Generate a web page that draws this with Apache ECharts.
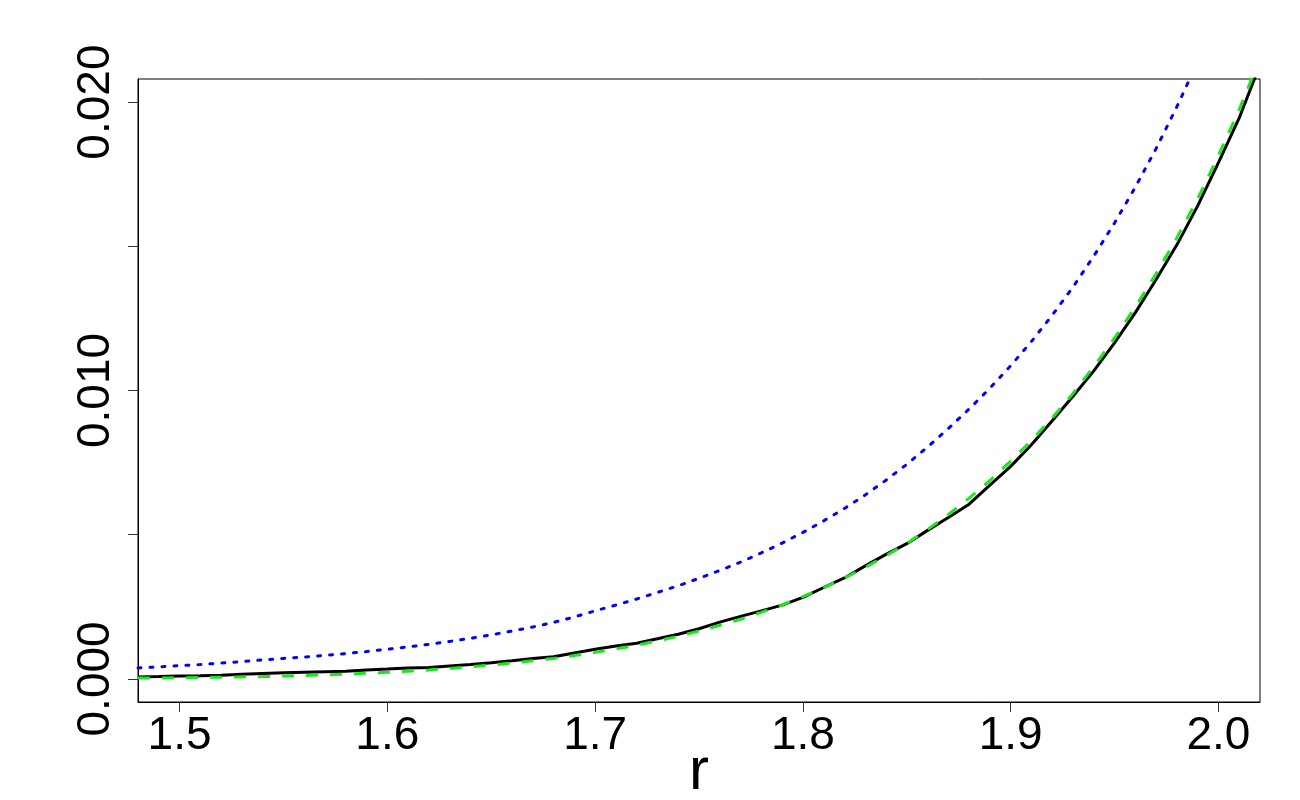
<!DOCTYPE html>
<html>
<head>
<meta charset="utf-8">
<script src="https://cdn.jsdelivr.net/npm/echarts@6/dist/echarts.min.js"></script>
<style>
html,body{margin:0;padding:0;background:#fff;}
#chart{width:1300px;height:800px;}
</style>
</head>
<body>
<div id="chart"></div>
<script>
const rValues = [1.48,1.49,1.50,1.51,1.52,1.53,1.54,1.55,1.56,1.57,1.58,1.59,1.60,1.61,1.62,1.63,1.64,1.65,1.66,1.67,1.68,1.69,1.70,1.71,1.72,1.73,1.74,1.75,1.76,1.77,1.78,1.79,1.80,1.81,1.82,1.83,1.84,1.85,1.86,1.87,1.88,1.89,1.90,1.91,1.92,1.93,1.94,1.95,1.96,1.97,1.98,1.99,2.00,2.01,2.02];

const blackValues = [0.00007,0.00008,0.00010,0.00011,0.00013,0.00016,0.00019,0.00021,0.00023,0.00025,0.00027,0.00031,0.00034,0.00038,0.00040,0.00045,0.00050,0.00056,0.00063,0.00071,0.00077,0.00090,0.00103,0.00114,0.00124,0.00139,0.00155,0.00174,0.00197,0.00217,0.00236,0.00256,0.00283,0.00317,0.00350,0.00392,0.00432,0.00469,0.00515,0.00560,0.00606,0.00672,0.00737,0.00812,0.00895,0.00980,0.01068,0.01165,0.01270,0.01385,0.01505,0.01640,0.01790,0.01945,0.02130];

const greenValues = [0.00003,0.00003,0.00004,0.00005,0.00006,0.00007,0.00008,0.00010,0.00012,0.00014,0.00017,0.00020,0.00023,0.00027,0.00031,0.00036,0.00042,0.00048,0.00055,0.00063,0.00071,0.00081,0.00092,0.00104,0.00117,0.00132,0.00148,0.00166,0.00186,0.00207,0.00231,0.00257,0.00285,0.00316,0.00350,0.00387,0.00427,0.00470,0.00518,0.00570,0.00627,0.00688,0.00755,0.00827,0.00905,0.00990,0.01083,0.01182,0.01290,0.01405,0.01530,0.01665,0.01815,0.01975,0.02150];

const blueValues = [0.00038,0.00042,0.00046,0.00050,0.00055,0.00060,0.00066,0.00071,0.00076,0.00082,0.00088,0.00095,0.00103,0.00111,0.00120,0.00130,0.00141,0.00153,0.00166,0.00180,0.00196,0.00215,0.00236,0.00256,0.00277,0.00300,0.00323,0.00349,0.00376,0.00405,0.00437,0.00471,0.00508,0.00548,0.00591,0.00638,0.00689,0.00744,0.00804,0.00868,0.00936,0.01008,0.01086,0.01170,0.01261,0.01359,0.01466,0.01581,0.01705,0.01839,0.01984,0.02140,0.02309];

const xTicks = [1.5,1.6,1.7,1.8,1.9,2.0];
const yTicks = [0,0.005,0.010,0.015,0.020];
const yLabels = [0,0.010,0.020];
const xTitle = 'r';

function pairs(xs, ys){ return ys.map((v,i)=>[xs[i], v]); }

const chart = echarts.init(document.getElementById('chart'), null, {renderer:'canvas'});
const FONT = 'Liberation Sans, Arial, sans-serif';
chart.setOption({
  animation:false,
  backgroundColor:'#fff',
  grid:{left:138, right:40, top:79, bottom:98, containLabel:false, outerBoundsMode:'none',
        show:true, borderColor:'#000', borderWidth:1, backgroundColor:'transparent'},
  xAxis:{
    type:'value', min:1.48, max:2.02,
    name:xTitle, nameLocation:'middle', nameGap:40, nameMoveOverlap:false,
    nameTextStyle:{fontFamily:FONT, fontSize:60, color:'#000'},
    axisLine:{show:true, onZero:false, lineStyle:{color:'#000', width:1}},
    axisTick:{show:true, inside:false, length:10, customValues:xTicks, lineStyle:{color:'#333', width:1}},
    axisLabel:{show:true, customValues:xTicks, margin:11, fontFamily:FONT, fontSize:46, color:'#000', formatter:v=>v.toFixed(1)},
    splitLine:{show:false}
  },
  yAxis:{
    type:'value', min:-0.0008, max:0.0208,
    axisLine:{show:true, onZero:false, lineStyle:{color:'#000', width:1}},
    axisTick:{show:true, inside:false, length:10, customValues:yTicks, lineStyle:{color:'#333', width:1}},
    axisLabel:{show:true, customValues:yLabels, rotate:90, margin:19, fontFamily:FONT, fontSize:46, color:'#000', formatter:v=>v.toFixed(3)},
    splitLine:{show:false}
  },
  series:[
    {type:'line', data:pairs(rValues, blackValues), showSymbol:false, clip:true,
     lineStyle:{color:'#000', width:3}},
    {type:'line', data:pairs(rValues, greenValues), showSymbol:false, clip:true,
     lineStyle:{color:'#1ee61e', width:3, type:[12,12], cap:'butt'}},
    {type:'line', data:pairs(rValues.slice(0, blueValues.length), blueValues), showSymbol:false, clip:true,
     lineStyle:{color:'#0000ff', width:3, type:[3,9], cap:'round'}}
  ]
});
</script>
</body>
</html>
